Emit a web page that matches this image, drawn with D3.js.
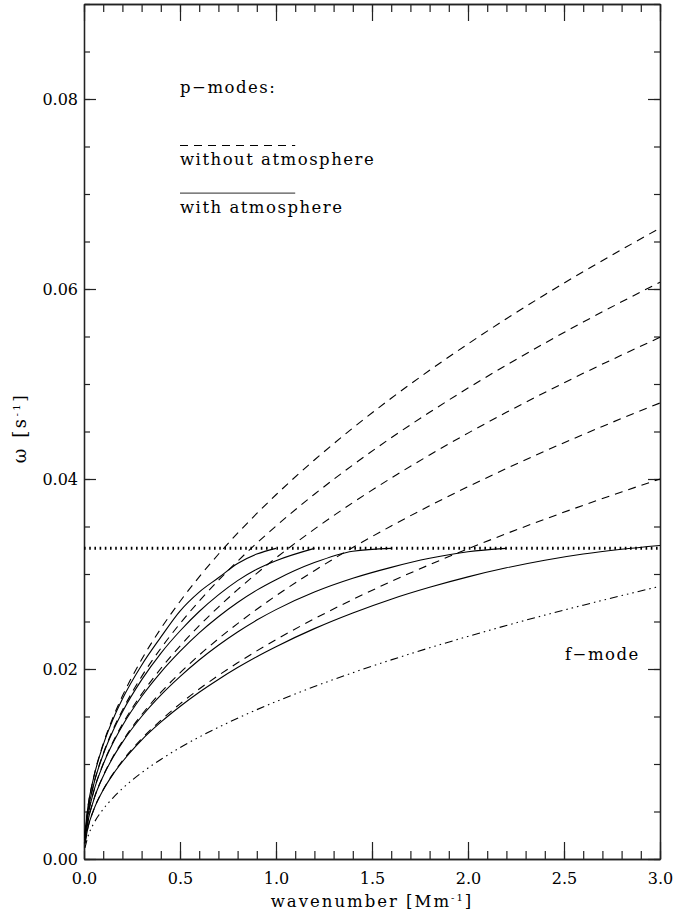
<!DOCTYPE html>
<html>
<head>
<meta charset="utf-8">
<script src="https://cdn.jsdelivr.net/npm/d3@7/dist/d3.min.js"></script>
<style>
  body { margin: 0; background: #fff; }
  text { font-family: "DejaVu Serif", serif; fill: #000; }
</style>
</head>
<body>
<svg width="673" height="915"></svg>
<script>
// wavenumber grid [Mm^-1]
var kGrid = [0.005, 0.02, 0.05, 0.1, 0.15, 0.2, 0.3, 0.4, 0.5, 0.6, 0.7, 0.8, 0.9, 1.0,
             1.2, 1.4, 1.6, 1.8, 2.0, 2.2, 2.4, 2.6, 2.8, 3.0];

// f-mode
var fMode = [.00117, .00234, .00371, .00524, .00642, .00741, .00908, .01048, .01172, .01284, .01386, .01482,
             .01572, .01657, .01815, .01961, .02096, .02223, .02343, .02458, .02567, .02672, .02773, .02870];

// p-modes without atmosphere (dashed)
var pNoAtm1 = [.00271, .00542, .00857, .01212, .01485, .01715, .02100, .02425, .02711, .02970, .03208, .03429,
               .03637, .03834, .04200, .04536, .04850, .05144, .05422, .05687, .05940, .06182, .06415, .06641];
var pNoAtm2 = [.00248, .00496, .00784, .01108, .01358, .01567, .01920, .02217, .02478, .02715, .02933, .03135,
               .03325, .03505, .03839, .04147, .04434, .04702, .04957, .05199, .05430, .05652, .05865, .06071];
var pNoAtm3 = [.00224, .00448, .00709, .01002, .01228, .01418, .01736, .02005, .02242, .02456, .02652, .02835,
               .03007, .03170, .03472, .03751, .04010, .04253, .04483, .04702, .04911, .05112, .05304, .05491];
var pNoAtm4 = [.00196, .00392, .00620, .00876, .01073, .01239, .01518, .01753, .01959, .02146, .02318, .02478,
               .02629, .02771, .03035, .03279, .03505, .03718, .03919, .04110, .04293, .04468, .04637, .04800];
var pNoAtm5 = [.00163, .00327, .00516, .00730, .00894, .01033, .01265, .01460, .01633, .01789, .01932, .02065,
               .02191, .02309, .02529, .02732, .02921, .03098, .03265, .03425, .03577, .03723, .03864, .04000];

// p-modes with atmosphere (solid), they stop at the cut-off
var pAtm1 = [.00271, .00541, .00853, .01202, .01466, .01685, .02040, .02335, .02610, .02810, .02960, .03110,
             .03210, .03270];
var pAtm2 = [.00248, .00495, .00781, .01100, .01345, .01548, .01885, .02165, .02400, .02605, .02780, .02930,
             .03050, .03140, .03270];
var pAtm3 = [.00224, .00447, .00706, .00996, .01218, .01403, .01710, .01965, .02185, .02380, .02550, .02700,
             .02830, .02940, .03120, .03240, .03270];
var pAtm4 = [.00196, .00391, .00618, .00872, .01066, .01228, .01500, .01725, .01920, .02095, .02250, .02390,
             .02515, .02625, .02810, .02955, .03070, .03165, .03235, .03270];
var pAtm5 = [.00163, .00326, .00514, .00726, .00888, .01024, .01252, .01440, .01605, .01755, .01890, .02015,
             .02130, .02235, .02425, .02590, .02735, .02860, .02970, .03065, .03145, .03210, .03260, .03300];

var cutoff = 0.0327;   // acoustic cut-off frequency

var xMajor = [0, 0.5, 1, 1.5, 2, 2.5, 3];
var yMajor = [0, 0.02, 0.04, 0.06, 0.08];

var svg = d3.select("svg"),
    margin = {top: 4, right: 13, bottom: 56, left: 84},
    width = +svg.attr("width") - margin.left - margin.right,
    height = +svg.attr("height") - margin.top - margin.bottom,
    g = svg.append("g").attr("transform", "translate(" + margin.left + "," + margin.top + ")");

var x = d3.scaleLinear().domain([0, 3]).range([0, width]);
var y = d3.scaleLinear().domain([0, 0.09]).range([height, 0]);

var xMinor = d3.range(0, 31).map(function(i) { return i / 10; });
var yMinor = d3.range(0, 19).map(function(i) { return i * 0.005; });

function styleAxis(sel) {
  sel.selectAll("path.domain").attr("stroke", "#222").attr("stroke-width", 1.3);
  sel.selectAll(".tick line").attr("stroke", "#222").attr("stroke-width", 1.2);
  sel.selectAll("text").attr("font-family", "DejaVu Serif, serif").attr("font-size", 16).attr("fill", "#000");
}

// minor ticks
g.append("g").attr("transform", "translate(0," + height + ")")
  .call(d3.axisBottom(x).tickValues(xMinor).tickSize(-8).tickSizeOuter(0).tickFormat(""))
  .call(styleAxis);
g.append("g")
  .call(d3.axisTop(x).tickValues(xMinor).tickSize(-8).tickSizeOuter(0).tickFormat(""))
  .call(styleAxis);
g.append("g")
  .call(d3.axisLeft(y).tickValues(yMinor).tickSize(-6).tickSizeOuter(0).tickFormat(""))
  .call(styleAxis);
g.append("g").attr("transform", "translate(" + width + ",0)")
  .call(d3.axisRight(y).tickValues(yMinor).tickSize(-6).tickSizeOuter(0).tickFormat(""))
  .call(styleAxis);

// major ticks
g.append("g").attr("transform", "translate(0," + height + ")")
  .call(d3.axisBottom(x).tickValues(xMajor).tickSize(-17).tickSizeOuter(0).tickPadding(14).tickFormat(d3.format(".1f")))
  .call(styleAxis);
g.append("g")
  .call(d3.axisTop(x).tickValues(xMajor).tickSize(-17).tickSizeOuter(0).tickFormat(""))
  .call(styleAxis);
g.append("g")
  .call(d3.axisLeft(y).tickValues(yMajor).tickSize(-12).tickSizeOuter(0).tickPadding(6).tickFormat(d3.format(".2f")))
  .call(styleAxis);
g.append("g").attr("transform", "translate(" + width + ",0)")
  .call(d3.axisRight(y).tickValues(yMajor).tickSize(-12).tickSizeOuter(0).tickFormat(""))
  .call(styleAxis);

var line = d3.line()
    .x(function(d) { return x(d[0]); })
    .y(function(d) { return y(d[1]); })
    .curve(d3.curveMonotoneX);

function pairs(vals) {
  return vals.map(function(v, i) { return [kGrid[i], v]; });
}

// cut-off line
g.append("path")
  .datum([[0, cutoff], [3, cutoff]])
  .attr("d", line)
  .attr("fill", "none")
  .attr("stroke", "#000")
  .attr("stroke-width", 3)
  .attr("stroke-dasharray", "1.6,3.6");

var dashed = [pNoAtm1, pNoAtm2, pNoAtm3, pNoAtm4, pNoAtm5];
g.selectAll(".noatm")
  .data(dashed)
  .enter().append("path")
    .attr("class", "noatm")
    .attr("d", function(d) { return line(pairs(d)); })
    .attr("fill", "none")
    .attr("stroke", "#000")
    .attr("stroke-width", 1.1)
    .attr("stroke-dasharray", "8,6");

var solid = [pAtm1, pAtm2, pAtm3, pAtm4, pAtm5];
g.selectAll(".atm")
  .data(solid)
  .enter().append("path")
    .attr("class", "atm")
    .attr("d", function(d) { return line(pairs(d)); })
    .attr("fill", "none")
    .attr("stroke", "#000")
    .attr("stroke-width", 1.1);

g.append("path")
  .datum(pairs(fMode))
  .attr("d", line)
  .attr("fill", "none")
  .attr("stroke", "#000")
  .attr("stroke-width", 1.1)
  .attr("stroke-dasharray", "8,4,1.5,4,1.5,4,1.5,4");

// legend
var fs = 16.5, ls = 1.5;
g.append("text").attr("x", x(0.5)).attr("y", y(0.0806)).attr("font-size", fs)
  .attr("letter-spacing", ls).text("p\u2212modes:");
g.append("line")
  .attr("x1", x(0.5)).attr("x2", x(1.1))
  .attr("y1", y(0.0751)).attr("y2", y(0.0751))
  .attr("stroke", "#000").attr("stroke-width", 1.1).attr("stroke-dasharray", "8,6");
g.append("text").attr("x", x(0.5)).attr("y", y(0.0731)).attr("font-size", fs)
  .attr("letter-spacing", ls).text("without atmosphere");
g.append("line")
  .attr("x1", x(0.5)).attr("x2", x(1.1))
  .attr("y1", y(0.0701)).attr("y2", y(0.0701))
  .attr("stroke", "#555").attr("stroke-width", 1.3);
g.append("text").attr("x", x(0.5)).attr("y", y(0.0680)).attr("font-size", fs)
  .attr("letter-spacing", ls).text("with atmosphere");

g.append("text").attr("x", x(2.505)).attr("y", y(0.0209)).attr("font-size", fs)
  .attr("letter-spacing", ls).text("f\u2212mode");

// axis titles
var xt = svg.append("text")
  .attr("x", margin.left + width / 2).attr("y", 907)
  .attr("text-anchor", "middle").attr("font-size", fs).attr("letter-spacing", 2);
xt.append("tspan").text("wavenumber [Mm");
xt.append("tspan").attr("dy", -6).attr("font-size", 10).text("-1");
xt.append("tspan").attr("dy", 6).text("]");

var yt = svg.append("text")
  .attr("transform", "translate(26,428) rotate(-90)")
  .attr("text-anchor", "middle").attr("font-size", fs).attr("letter-spacing", 2.5);
yt.append("tspan").attr("font-size", 18).text("\u03c9 [s");
yt.append("tspan").attr("dy", -6).attr("font-size", 10).text("-1");
yt.append("tspan").attr("dy", 6).text("]");
</script>
</body>
</html>
